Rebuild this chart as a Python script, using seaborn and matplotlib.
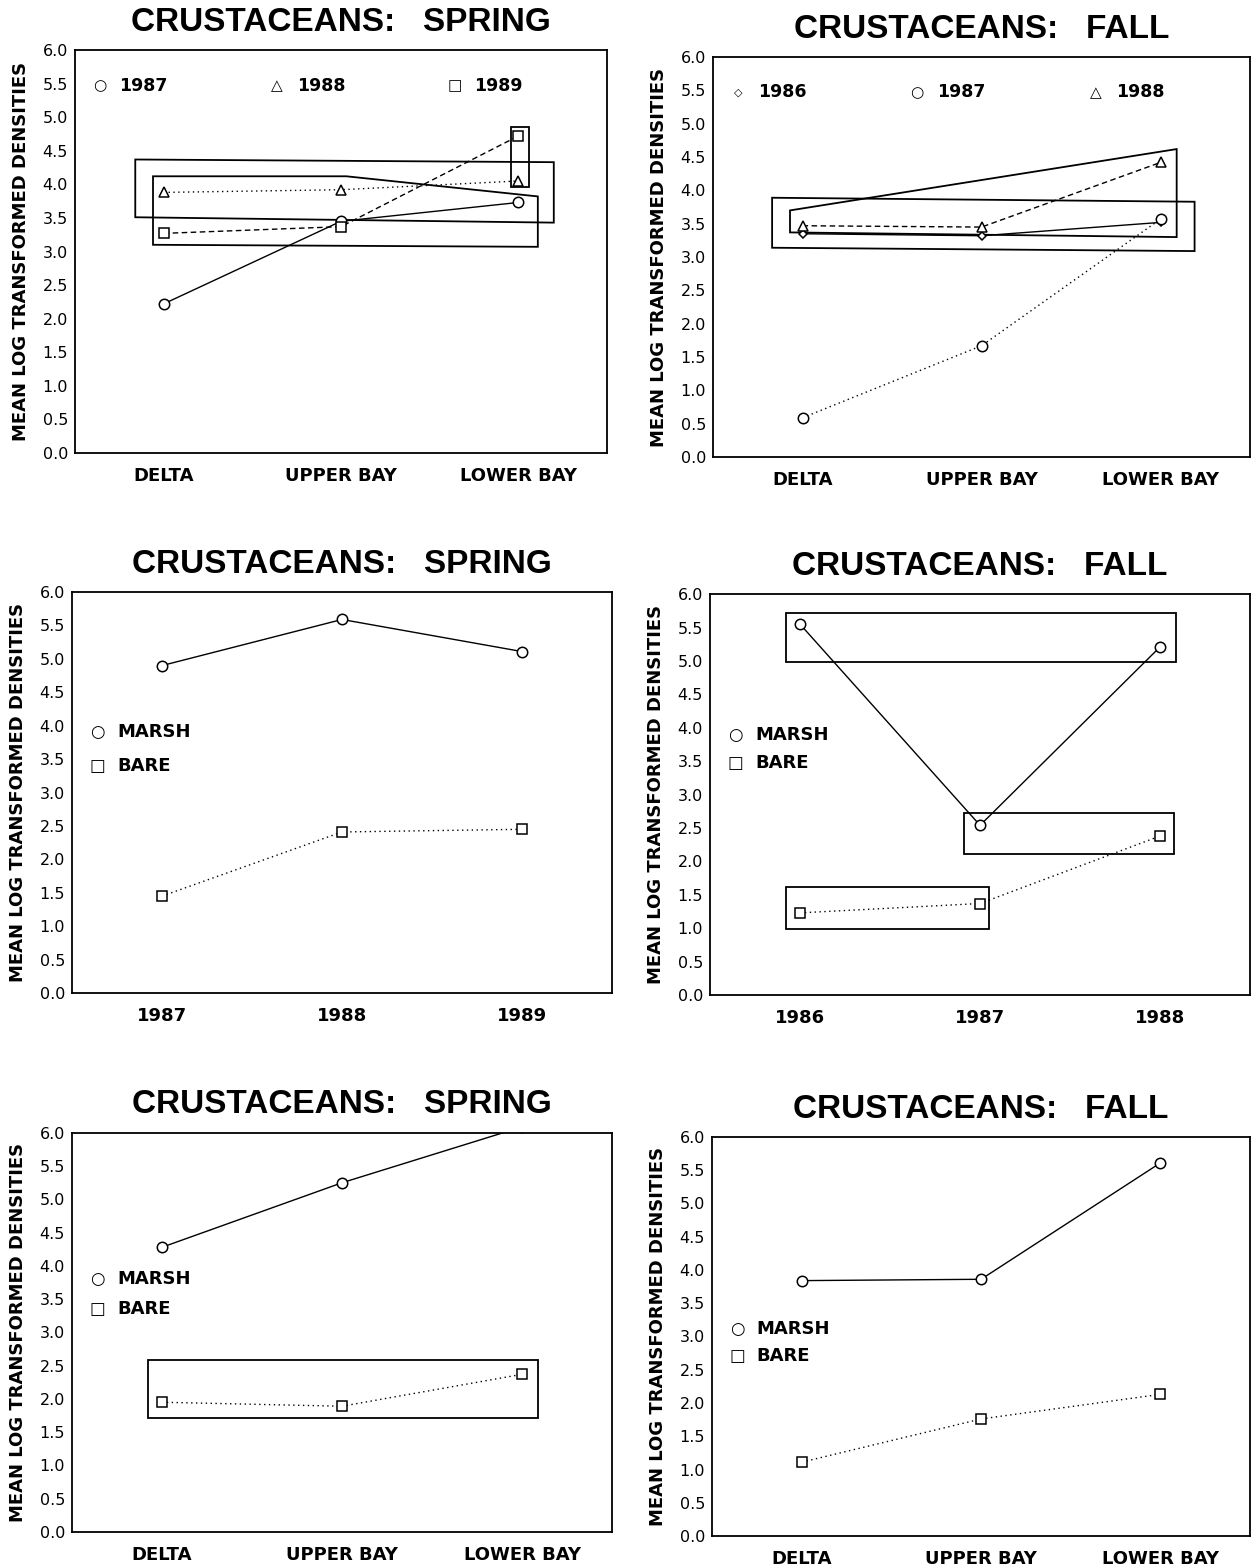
import numpy as np
import pandas as pd
import matplotlib.pyplot as plt
import seaborn as sns
from matplotlib.patches import Polygon

# categories
sites = ['DELTA', 'UPPER BAY', 'LOWER BAY']
spring_years = ['1987', '1988', '1989']
fall_years = ['1986', '1987', '1988']
habitats = ['MARSH', 'BARE']

# top row: site x year
spring_1987 = [2.22, 3.45, 3.73]
spring_1988 = [3.88, 3.92, 4.05]
spring_1989 = [3.27, 3.37, 4.72]
fall_1986 = [3.35, 3.32, 3.52]
fall_1987 = [0.59, 1.67, 3.57]
fall_1988 = [3.47, 3.45, 4.42]

# middle row: year x habitat
spring_marsh_yr = [4.90, 5.59, 5.11]
spring_bare_yr = [1.45, 2.41, 2.45]
fall_marsh_yr = [5.55, 2.54, 5.21]
fall_bare_yr = [1.23, 1.37, 2.38]

# bottom row: site x habitat (lower bay marsh runs off the top)
spring_marsh_site = [4.28, 5.25, 6.09]
spring_bare_site = [1.95, 1.89, 2.37]
fall_marsh_site = [3.84, 3.86, 5.61]
fall_bare_site = [1.11, 1.76, 2.13]

# hand drawn grouping outlines (data coords)
outlines = [
    [[(0.84, 4.37), (3.20, 4.33), (3.20, 3.43), (0.84, 3.51)],
     [(0.94, 4.12), (2.03, 4.12), (3.11, 3.82), (3.11, 3.07), (0.94, 3.10)],
     [(2.96, 4.86), (3.06, 4.86), (3.06, 3.96), (2.96, 3.96)]],
    [[(0.93, 3.70), (3.09, 4.62), (3.09, 3.30), (0.93, 3.37)],
     [(0.83, 3.89), (3.19, 3.83), (3.19, 3.09), (0.83, 3.14)]],
    [],
    [[(0.92, 4.98), (3.09, 4.98), (3.09, 5.72), (0.92, 5.72)],
     [(1.91, 2.11), (3.08, 2.11), (3.08, 2.73), (1.91, 2.73)],
     [(0.92, 0.99), (2.05, 0.99), (2.05, 1.61), (0.92, 1.61)]],
    [[(0.92, 1.72), (3.09, 1.72), (3.09, 2.59), (0.92, 2.59)]],
    [],
]

year_marker = {'1986': 'D', '1987': 'o', '1988': '^', '1989': 's'}
hab_marker = {'MARSH': 'o', 'BARE': 's'}
dash_list = ['', (1, 2.5), (4, 2.5)]
sym = {'o': '\u25cb', '^': '\u25b3', 's': '\u25a1', 'D': '\u25c7'}

panels = [
    dict(title='CRUSTACEANS:   SPRING', cats=sites,
         series={'1987': spring_1987, '1988': spring_1988, '1989': spring_1989},
         markers=year_marker, legend='row', rect=[0.0596, 0.7111, 0.4229, 0.2570]),
    dict(title='CRUSTACEANS:   FALL', cats=sites,
         series={'1986': fall_1986, '1987': fall_1987, '1988': fall_1988},
         markers=year_marker, legend='row', rect=[0.5668, 0.7085, 0.4269, 0.2551]),
    dict(title='CRUSTACEANS:   SPRING', cats=spring_years,
         series={'MARSH': spring_marsh_yr, 'BARE': spring_bare_yr},
         markers=hab_marker, legend=(3.90, 3.40), rect=[0.0572, 0.3667, 0.4293, 0.2557]),
    dict(title='CRUSTACEANS:   FALL', cats=fall_years,
         series={'MARSH': fall_marsh_yr, 'BARE': fall_bare_yr},
         markers=hab_marker, legend=(3.89, 3.48), rect=[0.5644, 0.3654, 0.4293, 0.2557]),
    dict(title='CRUSTACEANS:   SPRING', cats=sites,
         series={'MARSH': spring_marsh_site, 'BARE': spring_bare_site},
         markers=hab_marker, legend=(3.81, 3.35), rect=[0.0572, 0.0230, 0.4293, 0.2545]),
    dict(title='CRUSTACEANS:   FALL', cats=sites,
         series={'MARSH': fall_marsh_site, 'BARE': fall_bare_site},
         markers=hab_marker, legend=(3.11, 2.71), rect=[0.5660, 0.0204, 0.4277, 0.2545]),
]

sns.set_style('white')
plt.rcParams['font.family'] = ['DejaVu Sans']
plt.rcParams['text.color'] = 'black'
plt.rcParams['axes.labelcolor'] = 'black'
plt.rcParams['xtick.color'] = 'black'
plt.rcParams['ytick.color'] = 'black'

fig = plt.figure(figsize=(12.58, 15.68), dpi=100)

for k, p in enumerate(panels):
    ax = fig.add_axes(p['rect'])
    names = list(p['series'])
    rows = []
    for name in names:
        for i, v in enumerate(p['series'][name]):
            rows.append({'pos': i + 1, 'value': v, 'group': name})
    df = pd.DataFrame(rows)
    mk = {n: p['markers'][n] for n in names}
    ds = {n: dash_list[i] for i, n in enumerate(names)}
    sns.lineplot(data=df, x='pos', y='value', style='group', style_order=names,
                 markers=mk, dashes=ds, color='black', lw=1.0, ms=7.5,
                 mfc='white', mec='black', mew=1.1, errorbar=None,
                 legend=False, ax=ax)
    # diamonds were drawn smaller in the original
    for line in ax.lines:
        if line.get_marker() == 'D':
            line.set_markersize(4.5)

    for poly in outlines[k]:
        ax.add_patch(Polygon(poly, closed=True, fill=False, ec='black', lw=1.3))

    # legend text
    if p['legend'] == 'row':
        for i, n in enumerate(names):
            ax.text(0.64 + i, 5.47, sym[p['markers'][n]], ha='center', va='center',
                    fontsize=11 if p['markers'][n] != 'D' else 8)
            ax.text(0.75 + i, 5.47, n, ha='left', va='center', fontsize=12.5, fontweight='bold')
    else:
        for n, yy in zip(names, p['legend']):
            ax.text(0.64, yy, sym[p['markers'][n]], ha='center', va='center', fontsize=12)
            ax.text(0.75, yy, n, ha='left', va='center', fontsize=13, fontweight='bold')

    ax.set_xlim(0.5, 3.5)
    ax.set_ylim(0, 6)
    ax.set_xticks([1, 2, 3])
    ax.set_xticklabels(p['cats'], fontsize=13, fontweight='bold')
    ax.set_xticks([1.5, 2.5], minor=True)
    ax.tick_params(axis='x', which='major', length=0, pad=10)
    ax.tick_params(axis='x', which='minor', length=5, direction='in', width=1)
    ax.set_yticks(np.arange(0, 6.01, 0.5))
    ax.set_yticklabels([f'{t:.1f}' for t in np.arange(0, 6.01, 0.5)], fontsize=11.5)
    ax.tick_params(axis='y', length=0, pad=5)
    ax.set_xlabel('')
    ax.set_ylabel('MEAN LOG TRANSFORMED DENSITIES', fontsize=13, fontweight='bold', labelpad=9)
    ax.set_title(p['title'], fontsize=24, fontweight='bold', pad=14,
                 family=['Liberation Sans', 'DejaVu Sans'])
    for s in ax.spines.values():
        s.set_color('black')
        s.set_linewidth(1.3)

fig.savefig('out.png', dpi=100, facecolor='white')
